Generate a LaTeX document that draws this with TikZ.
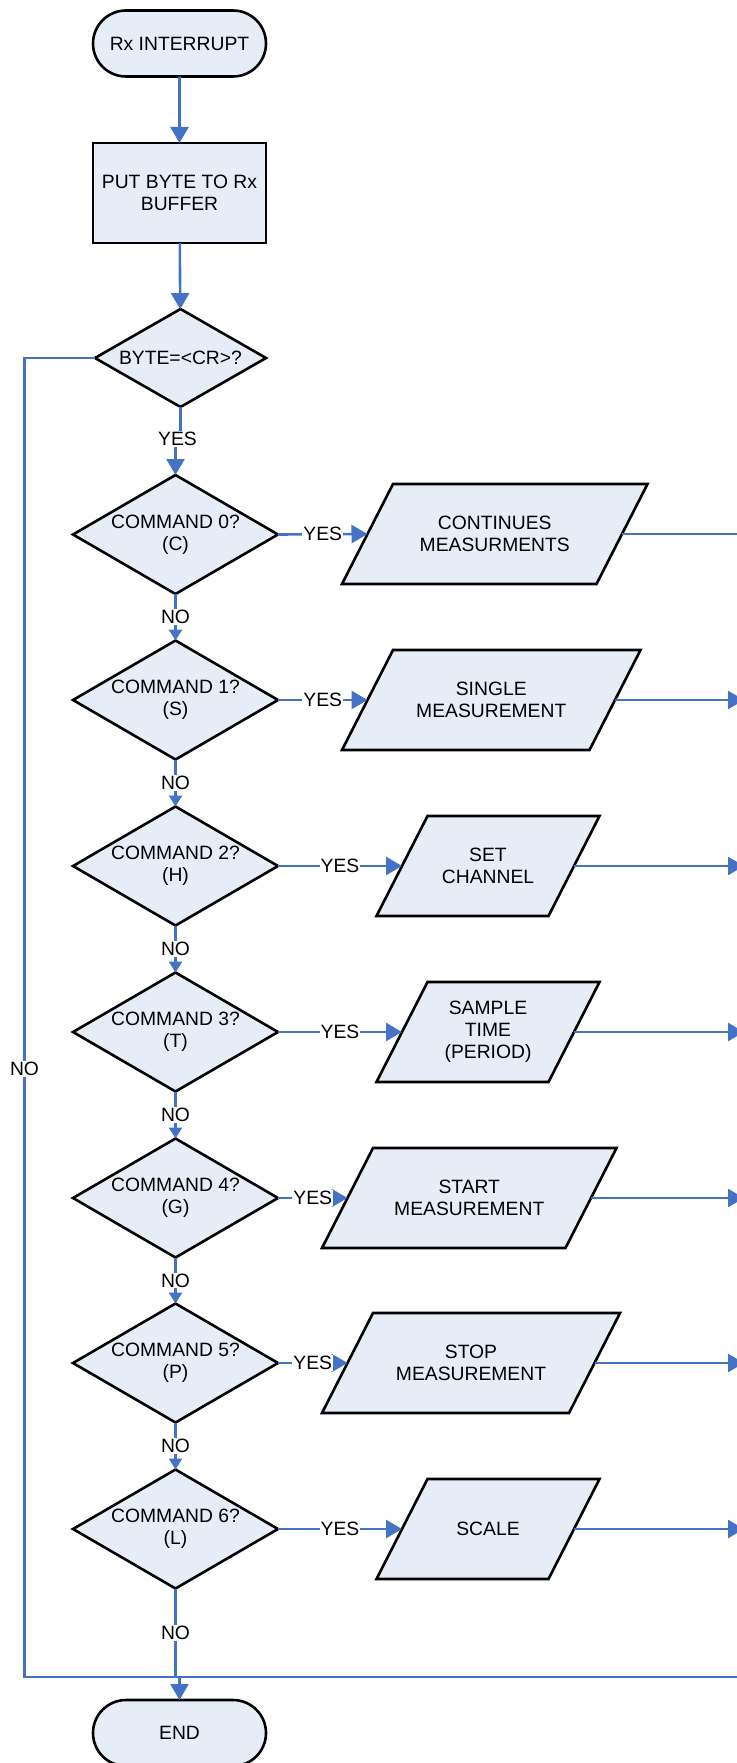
\documentclass[tikz,border=0pt]{standalone}
\usepackage{fontspec}
\setmainfont{Liberation Sans}
\usetikzlibrary{shapes.geometric,shapes.misc,arrows.meta,backgrounds}
\definecolor{lineblue}{RGB}{68,114,196}
\definecolor{boxfill}{RGB}{231,237,247}
\begin{document}
\begin{tikzpicture}[x=1pt,y=-1pt,
  font=\fontsize{19.3}{22}\selectfont,
  term/.style={rounded rectangle, draw=black, fill=boxfill, line width=2.6pt,
    minimum width=173pt, minimum height=66pt, inner sep=0pt, outer sep=0pt},
  proc/.style={rectangle, draw=black, fill=boxfill, line width=2.6pt,
    minimum width=173pt, minimum height=100pt, inner sep=0pt, outer sep=0pt, align=center},
  dec/.style={diamond, draw=black, fill=boxfill, line width=2.6pt,
    minimum width=205pt, minimum height=119pt, inner sep=0pt, outer sep=0pt,
    label={[align=center,text=black]center:{#1}}},
  ptext/.style={rectangle, draw=none, minimum height=100pt, inner sep=0pt, outer sep=0pt, align=center},
  pshape/.style={draw=black, fill=boxfill, line width=2.6pt, line join=miter},
  flow/.style={draw=lineblue, line width=2.6pt},
  big/.tip={Triangle[length=16pt,width=18pt]},
  small/.tip={Triangle[length=11pt,width=13pt]},
  lbl/.style={fill=white, inner sep=1pt, text=black}
]
\useasboundingbox (0,0) rectangle (736,1763);

% nodes
\node[term] (start) at (179.5,43.5) {Rx INTERRUPT};
\node[proc] (buf) at (179.5,193) {PUT BYTE TO Rx\\BUFFER};
\node[dec={BYTE=<CR>?}, minimum width=171pt, minimum height=98pt] (byte) at (180.5,358) {};

\node[dec={COMMAND 0?\\(C)}] (c0) at (175.5,534.5) {};
\node[dec={COMMAND 1?\\(S)}] (c1) at (175.5,700) {};
\node[dec={COMMAND 2?\\(H)}] (c2) at (175.5,866) {};
\node[dec={COMMAND 3?\\(T)}] (c3) at (175.5,1032) {};
\node[dec={COMMAND 4?\\(G)}] (c4) at (175.5,1198) {};
\node[dec={COMMAND 5?\\(P)}] (c5) at (175.5,1363) {};
\node[dec={COMMAND 6?\\(L)}] (c6) at (175.5,1529) {};

\node[ptext, minimum width=254.5pt] (p0) at (494.75,534) {CONTINUES\\MEASURMENTS};
\node[ptext, minimum width=247.5pt] (p1) at (491.25,700) {SINGLE\\MEASUREMENT};
\node[ptext, minimum width=172pt] (p2) at (488,866) {SET\\CHANNEL};
\node[ptext, minimum width=172pt] (p3) at (488,1032) {SAMPLE\\TIME\\(PERIOD)};
\node[ptext, minimum width=243.5pt] (p4) at (469.25,1198) {START\\MEASUREMENT};
\node[ptext, minimum width=247pt] (p5) at (471,1363) {STOP\\MEASUREMENT};
\node[ptext, minimum width=172pt] (p6) at (488,1529) {SCALE};

\node[term] (end) at (179.5,1733) {END};

\begin{scope}[on background layer]
\foreach \n in {p0,p1,p2,p3,p4,p5,p6}
  \path[pshape] ([xshift=25.5pt]\n.north west) -- ([xshift=25.5pt]\n.north east)
    -- ([xshift=-25.5pt]\n.south east) -- ([xshift=-25.5pt]\n.south west) -- cycle;
\end{scope}

% helper coordinates
\coordinate (L1) at (24.5,358);
\coordinate (L2) at (24.5,1677);
\coordinate (R2) at (748,1677);
\coordinate (redge) at (744,0);
\coordinate (rfar) at (748,0);

% main connectors
\draw[flow,-{big}] (start) -- (buf);
\draw[flow,-{big}] (buf) -- (byte);
\node[lbl] (yes0) at (177.5,439) {YES};
\draw[flow] (byte.south) -- (byte.south |- yes0.north);
\draw[flow,-{big}] (c0.north |- yes0.south) -- (c0.north);

\draw[flow,-{small}] (c0.south) -- node[lbl]{NO} (c1.north);
\draw[flow,-{small}] (c1.south) -- node[lbl]{NO} (c2.north);
\draw[flow,-{small}] (c2.south) -- node[lbl]{NO} (c3.north);
\draw[flow,-{small}] (c3.south) -- node[lbl]{NO} (c4.north);
\draw[flow,-{small}] (c4.south) -- node[lbl]{NO} (c5.north);
\draw[flow,-{small}] (c5.south) -- node[lbl]{NO} (c6.north);

\foreach \i in {0,...,6}
  \draw[flow,-{big}] (c\i.east) -- node[lbl]{YES} (p\i.west);

\draw[flow] (p0.east) -- (p0.east -| rfar);
\foreach \i in {1,...,6}
  \draw[flow,-{big}] (p\i.east) -- (p\i.east -| redge);

% NO loop and end
\draw[flow] (byte.west) -- (L1) -- node[lbl,pos=0.539]{NO} (L2) -- (R2);
\draw[flow] (c6.south) -- node[lbl]{NO} (c6.south |- L2);
\draw[flow,-{big}] (end.north |- L2) -- (end.north);
\end{tikzpicture}
\end{document}
